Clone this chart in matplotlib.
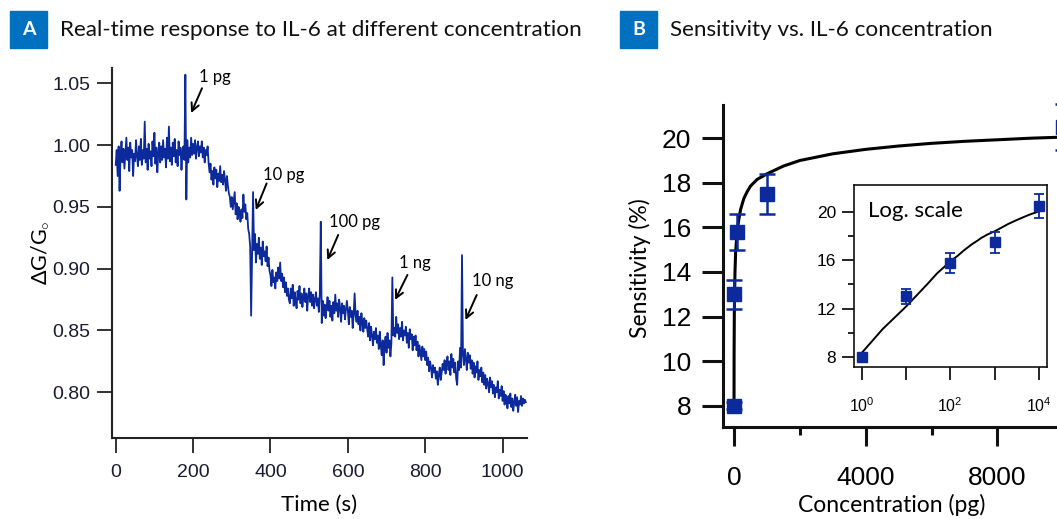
import numpy as np
import matplotlib
matplotlib.use("Agg")
from matplotlib import pyplot as plt
from matplotlib.patches import Rectangle
from matplotlib.ticker import FixedLocator

plt.rcParams['font.family'] = ['Liberation Sans', 'DejaVu Sans']
plt.rcParams['mathtext.fontset'] = 'custom'
plt.rcParams['mathtext.rm'] = 'Liberation Sans'

# ---- panel A data: real-time response, one value every 2.5 s ----
time_s = np.arange(0, 1061, 2.5)
response = [
    0.984, 0.996, 0.975, 0.999, 0.963, 0.992, 1.003, 0.986, 0.997, 0.981,
    0.994, 1.006, 0.988, 0.998, 0.979, 1.002, 0.990, 0.996, 0.975, 0.993,
    0.987, 1.004, 0.991, 0.983, 0.999, 0.988, 1.005, 0.984, 0.996, 0.989,
    1.019, 0.986, 0.997, 0.980, 1.001, 0.989, 0.995, 0.983, 1.003, 0.991,
    1.010, 0.985, 0.998, 0.978, 0.994, 1.002, 0.986, 0.999, 0.988, 1.004,
    0.990, 0.997, 0.982, 1.006, 0.989, 1.015, 0.987, 0.998, 0.984, 1.002,
    0.991, 1.005, 0.986, 0.996, 0.983, 1.003, 0.992, 0.998, 0.980, 0.995,
    0.999, 0.988, 1.057, 0.956, 1.004, 0.986, 0.998, 0.990, 1.006, 0.992,
    1.001, 0.993, 1.004, 0.989, 0.998, 1.003, 0.991, 0.999, 0.994, 1.003,
    0.990, 0.998, 0.986, 0.996, 0.992, 0.999, 0.986, 0.978, 0.985, 0.972,
    0.979, 0.968, 0.982, 0.973, 0.980, 0.966, 0.977, 0.971, 0.983, 0.970,
    0.976, 0.968, 0.979, 0.972, 0.963, 0.975, 0.967, 0.961, 0.958, 0.950,
    0.958, 0.948, 0.955, 0.962, 0.944, 0.953, 0.940, 0.950, 0.946, 0.938,
    0.948, 0.941, 0.960, 0.946, 0.952, 0.940, 0.945, 0.932, 0.928, 0.918,
    0.862, 0.910, 0.962, 0.915, 0.928, 0.905, 0.920, 0.912, 0.925, 0.908,
    0.917, 0.903, 0.922, 0.910, 0.914, 0.906, 0.918, 0.902, 0.909, 0.898,
    0.895, 0.886, 0.899, 0.889, 0.893, 0.884, 0.897, 0.890, 0.901, 0.892,
    0.905, 0.890, 0.896, 0.885, 0.893, 0.881, 0.889, 0.878, 0.884, 0.875,
    0.872, 0.884, 0.876, 0.887, 0.870, 0.881, 0.874, 0.868, 0.882, 0.875,
    0.886, 0.872, 0.880, 0.869, 0.877, 0.884, 0.873, 0.880, 0.866, 0.878,
    0.884, 0.873, 0.881, 0.870, 0.879, 0.868, 0.875, 0.881, 0.870, 0.876,
    0.865, 0.880, 0.938, 0.856, 0.874, 0.862, 0.871, 0.860, 0.868, 0.877,
    0.866, 0.874, 0.861, 0.870, 0.858, 0.873, 0.864, 0.879, 0.866, 0.872,
    0.861, 0.875, 0.868, 0.857, 0.872, 0.864, 0.870, 0.859, 0.867, 0.874,
    0.866, 0.855, 0.869, 0.861, 0.866, 0.852, 0.863, 0.880, 0.862, 0.857,
    0.866, 0.855, 0.861, 0.850, 0.864, 0.856, 0.849, 0.860, 0.852, 0.858,
    0.851, 0.845, 0.856, 0.842, 0.853, 0.846, 0.838, 0.849, 0.843, 0.852,
    0.840, 0.846, 0.835, 0.849, 0.838, 0.830, 0.842, 0.822, 0.839, 0.845,
    0.832, 0.848, 0.836, 0.842, 0.829, 0.840, 0.893, 0.846, 0.852, 0.845,
    0.861, 0.848, 0.855, 0.843, 0.852, 0.845, 0.857, 0.842, 0.850, 0.846,
    0.853, 0.840, 0.848, 0.836, 0.851, 0.843, 0.847, 0.834, 0.845, 0.838,
    0.846, 0.834, 0.841, 0.829, 0.838, 0.832, 0.826, 0.837, 0.829, 0.835,
    0.826, 0.833, 0.822, 0.828, 0.817, 0.825, 0.820, 0.812, 0.822, 0.816,
    0.820, 0.811, 0.817, 0.806, 0.814, 0.820, 0.810, 0.816, 0.823, 0.818,
    0.826, 0.815, 0.823, 0.829, 0.818, 0.825, 0.814, 0.831, 0.820, 0.827,
    0.816, 0.824, 0.811, 0.806, 0.825, 0.818, 0.836, 0.820, 0.911, 0.830,
    0.822, 0.835, 0.827, 0.818, 0.832, 0.824, 0.830, 0.819, 0.826, 0.815,
    0.824, 0.812, 0.821, 0.816, 0.825, 0.810, 0.818, 0.813, 0.820, 0.808,
    0.816, 0.806, 0.814, 0.803, 0.811, 0.807, 0.800, 0.812, 0.804, 0.809,
    0.799, 0.806, 0.796, 0.804, 0.800, 0.809, 0.795, 0.802, 0.797, 0.805,
    0.793, 0.801, 0.790, 0.798, 0.794, 0.787, 0.797, 0.791, 0.799, 0.788,
    0.795, 0.785, 0.792, 0.798, 0.789, 0.796, 0.784, 0.793, 0.790, 0.797,
    0.789, 0.795, 0.791, 0.794, 0.792,
]

# injection labels: text anchor (t, value), arrow tail, arrow tip
inj_labels = ['1 pg', '10 pg', '100 pg', '1 ng', '10 ng']
inj_text = [(215, 1.0551), (380, 0.9758), (551, 0.9374), (732, 0.905), (921, 0.8897)]
inj_tail = [(223, 1.046), (390, 0.969), (575, 0.9273), (754, 0.895), (933, 0.8787)]
inj_tip = [(195, 1.026), (362, 0.9475), (547, 0.907), (722, 0.8747), (904, 0.8585)]

# ---- panel B data ----
conc = [1, 10, 100, 1000, 10000]
sens = [8.0, 13.0, 15.8, 17.5, 20.5]
sens_err = [0.15, 0.65, 0.82, 0.88, 1.03]
fit_conc = [1, 3, 10, 30, 50, 100, 150, 200, 300, 400, 500, 700, 1000, 1500, 2000,
            3000, 4000, 5000, 6000, 7000, 8000, 9000, 10000]
fit_sens = [8.3, 10.3, 12.15, 14.0, 14.9, 15.9, 16.4, 16.8, 17.3, 17.6, 17.85, 18.15,
            18.4, 18.75, 19.0, 19.3, 19.5, 19.65, 19.77, 19.86, 19.93, 20.0, 20.05]

W, H = 1057, 519
fig = plt.figure(figsize=(W / 100, H / 100), dpi=100)

def px_rect(x0, y0, x1, y1):
    return [x0 / W, 1 - y1 / H, (x1 - x0) / W, (y1 - y0) / H]

navy = '#0c2a9c'
box_blue = '#0070C0'
tfont = ['Lato', 'DejaVu Sans']

# titles with blue letter boxes
for letter, bx, title, tx in [('A', 10, 'Real-time response to IL-6 at different concentration', 60),
                              ('B', 620, 'Sensitivity vs. IL-6 concentration', 670)]:
    fig.add_artist(Rectangle((bx / W, 1 - 48 / H), 37 / W, 37 / H,
                             transform=fig.transFigure, color=box_blue))
    fig.text((bx + 18.5) / W, 1 - 29.5 / H, letter, color='white', fontsize=14,
             fontweight='bold', family=tfont, ha='center', va='center')
    fig.text(tx / W, 1 - 30 / H, title, fontsize=16.2, family=tfont,
             ha='left', va='center', color='#111111')

# ---- panel A ----
axA = fig.add_axes(px_rect(112, 68, 527, 438))
axA.plot(time_s, response, color=navy, lw=1.3)
axA.set_xlim(-9.6, 1063)
axA.set_ylim(0.763, 1.0624)
axA.set_xticks([0, 200, 400, 600, 800, 1000])
axA.set_yticks([0.80, 0.85, 0.90, 0.95, 1.00, 1.05])
axA.set_yticklabels(['0.80', '0.85', '0.90', '0.95', '1.00', '1.05'])
for s in ['top', 'right']:
    axA.spines[s].set_visible(False)
for s in ['left', 'bottom']:
    axA.spines[s].set_linewidth(1.5)
    axA.spines[s].set_color('#222222')
axA.tick_params(axis='both', length=10.5, width=1.3, color='#222222',
                labelsize=14, labelcolor='#1a1a33')
axA.tick_params(axis='y', pad=5)
axA.tick_params(axis='x', pad=8)
for lab, tp, tl, hd in zip(inj_labels, inj_text, inj_tail, inj_tip):
    axA.text(tp[0], tp[1], lab, fontsize=12, family=tfont, ha='left', va='center')
    axA.annotate('', xy=hd, xytext=tl,
                 arrowprops=dict(arrowstyle='->', color='black', lw=1.4,
                                 mutation_scale=14, shrinkA=0, shrinkB=0))
axA.text(-0.173, 0.5, 'ΔG/G$_{\\circ}$', transform=axA.transAxes, rotation=90,
         fontsize=15.5, family=tfont, ha='center', va='center')
axA.text(0.5, -0.181, 'Time (s)', transform=axA.transAxes,
         fontsize=16, family=tfont, ha='center', va='center')

# ---- panel B main ----
axB = fig.add_axes(px_rect(723.3, 105, 1079.7, 426.7))
axB.plot(fit_conc, fit_sens, color='black', lw=2.2, zorder=2)
axB.errorbar(conc, sens, yerr=sens_err, fmt='s', color=navy, ms=10,
             elinewidth=1.8, capsize=6, capthick=1.8, zorder=3, clip_on=False)
axB.set_xlim(-325, 10500)
axB.set_ylim(7.057, 21.49)
axB.set_yticks([8, 10, 12, 14, 16, 18, 20])
axB.set_xticks([0, 4000, 8000])
axB.xaxis.set_minor_locator(FixedLocator([2000, 6000, 10000]))
for s in ['top', 'right']:
    axB.spines[s].set_visible(False)
for s in ['left', 'bottom']:
    axB.spines[s].set_linewidth(2.2)
    axB.spines[s].set_color('#111111')
axB.tick_params(axis='y', length=15, width=2.2, labelsize=19, pad=8, color='#111111')
axB.tick_params(axis='x', which='major', length=14, width=2.2, labelsize=19,
                pad=14, color='#111111')
axB.tick_params(axis='x', which='minor', length=6, width=2.2, color='#111111')
fig.text(640 / W, 1 - 268 / H, 'Sensitivity (%)', rotation=90, fontsize=16.5,
         family=tfont, ha='center', va='center')
fig.text(892 / W, 1 - 505 / H, 'Concentration (pg)', fontsize=16.5,
         family=tfont, ha='center', va='center')

# ---- inset, log scale ----
axI = fig.add_axes(px_rect(854, 185, 1047, 367))
axI.plot(fit_conc, fit_sens, color='black', lw=1.4, zorder=2)
axI.errorbar(conc, sens, yerr=sens_err, fmt='s', color=navy, ms=6.5,
             elinewidth=1.3, capsize=3.5, capthick=1.3, zorder=3)
axI.set_xscale('log')
axI.set_xlim(10 ** -0.17, 10 ** 4.18)
axI.set_ylim(7.15, 22.24)
axI.xaxis.set_major_locator(FixedLocator([1, 10, 100, 1000, 10000]))
axI.xaxis.set_minor_locator(FixedLocator([]))
axI.set_xticklabels([r'$\mathregular{10^{0}}$', '', r'$\mathregular{10^{2}}$', '',
                     r'$\mathregular{10^{4}}$'])
axI.set_yticks([8, 12, 16, 20])
axI.yaxis.set_minor_locator(FixedLocator([10, 14, 18]))
for s in axI.spines.values():
    s.set_linewidth(1.2)
    s.set_color('#111111')
axI.tick_params(axis='y', which='major', length=9, width=1.2, labelsize=12.5, pad=4)
axI.tick_params(axis='y', which='minor', length=4, width=1.2)
axI.tick_params(axis='x', length=9, width=1.2, labelsize=11.5, pad=12)
axI.text(0.073, 0.857, 'Log. scale', transform=axI.transAxes, fontsize=16,
         family=tfont, ha='left', va='center')

fig.savefig('out.png', dpi=100)
